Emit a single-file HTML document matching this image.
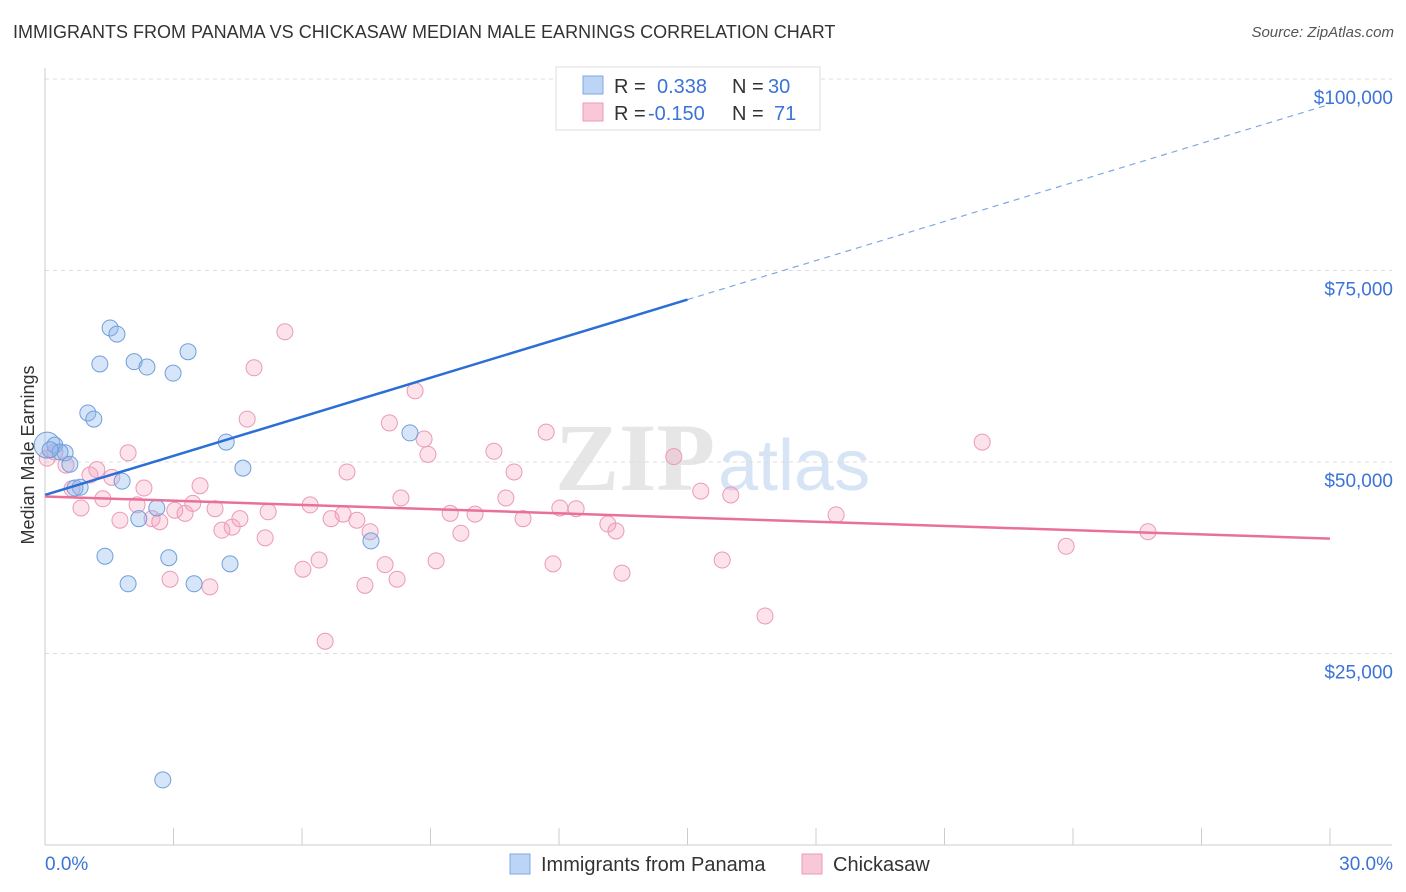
<!DOCTYPE html>
<html><head><meta charset="utf-8">
<style>
body{margin:0;background:#fff;font-family:"Liberation Sans",sans-serif;}
#wrap{position:relative;width:1406px;height:892px;overflow:hidden;}
.t{position:absolute;white-space:nowrap;}
</style></head>
<body><div id="wrap">
<div class="t" style="left:13px;top:22px;font-size:18px;color:#333;">IMMIGRANTS FROM PANAMA VS CHICKASAW MEDIAN MALE EARNINGS CORRELATION CHART</div>
<div class="t" style="right:12px;top:24px;font-size:15px;color:#555;font-style:italic;">Source: ZipAtlas.com</div>
<svg id="svg" width="1406" height="892" style="position:absolute;left:0;top:0"></svg>
</div>
<script>
const yTicks=[25000,50000,75000,100000];
const yTickLabels=["$25,000","$50,000","$75,000","$100,000"];
const xTickLabels=["0.0%","30.0%"];
const blueX=[0.05,0.23,0.47,0.58,0.82,1.0,1.14,1.28,1.52,1.68,1.80,1.40,1.94,2.08,2.38,2.19,2.61,2.89,2.99,3.34,3.48,4.23,4.32,4.62,2.75,7.61,8.52,0.35,0.12,0.70];
const blueY=[52200,52200,51200,49700,46700,56400,55600,62800,67500,66700,47500,37700,34100,63100,62400,42600,44000,37500,61600,64400,34100,52600,36700,49200,8500,39700,53800,51300,51600,46600];
const pinkX=[0.05,0.23,0.49,0.63,0.84,1.05,1.21,1.35,1.56,1.75,1.94,2.15,2.31,2.50,2.68,2.92,3.03,3.27,3.45,3.62,3.85,3.97,4.13,4.37,4.55,4.72,4.88,5.14,5.21,5.60,6.02,6.19,6.40,6.54,6.68,6.96,7.05,7.28,7.47,7.59,7.94,8.04,8.22,8.31,8.64,8.85,8.94,9.13,9.46,9.71,10.04,10.48,10.76,10.95,11.16,11.70,11.86,12.02,12.40,13.14,13.33,13.47,14.68,15.31,15.81,16.01,16.81,18.47,21.88,23.84,25.75];
const pinkY=[50500,51300,49600,46500,44000,48300,49000,45200,48000,42400,51200,44400,46600,42600,42200,34700,43700,43300,44600,46900,33700,43900,41100,41500,42600,55600,62300,40100,43500,67000,36000,44400,37200,26600,42600,43200,48700,42400,33900,40900,36600,55100,34700,45300,59300,53000,51000,37100,43300,40700,43200,51400,45300,48700,42600,53900,36700,44000,43900,41900,41000,35500,50700,46200,37200,45700,29900,43100,52600,39000,40900];
const blueTrend=[46000,0.338];
const blueLine=[[0,45700],[15,71200],[30,96700]];
const pinkLine=[[0,45500],[30,40000]];
const X0=45,X1=1330,Y0=845,PXY=191.5/25000;
const sx=v=>X0+(v/30)*(X1-X0), sy=v=>Y0-v*PXY;
const svg=document.getElementById('svg');const NS='http://www.w3.org/2000/svg';
function mk(tag,attrs,name){const e=document.createElementNS(NS,tag);for(const k in attrs)e.setAttribute(k,attrs[k]);


svg.appendChild(e);return e;}
// watermark
let w=mk('text',{x:555,y:490,'font-size':96,fill:'#e6e6e6','font-family':'Liberation Serif','font-weight':'bold'},'watermark-zip');w.textContent='ZIP';
w=mk('text',{x:718,y:490,'font-size':72,fill:'#d6e4f5','font-family':'Liberation Sans'},'watermark-atlas');w.textContent='atlas';
// grid
yTicks.forEach((t,i)=>{mk('line',{x1:X0,x2:1392,y1:sy(t),y2:sy(t),stroke:'#ddd','stroke-dasharray':'4,4'},'grid-line');
const tx=mk('text',{x:1393,y:sy(t)+25,'text-anchor':'end','font-size':19,fill:'#3b73d6'},'y-tick-label');tx.textContent=yTickLabels[i];});
mk('line',{x1:X0,x2:1392,y1:79,y2:79,stroke:'#ddd','stroke-dasharray':'4,4'},'grid-line-top');
mk('line',{x1:X0,x2:X0,y1:68,y2:Y0,stroke:'#ccc'},'y-axis');
mk('line',{x1:X0,x2:1392,y1:Y0,y2:Y0,stroke:'#ccc'},'x-axis');
for(let i=0;i<=10;i++){mk('line',{x1:sx(i*3),x2:sx(i*3),y1:828,y2:Y0,stroke:'#ccc'},'x-tick');}
let t=mk('text',{x:45,y:870,'font-size':19,fill:'#3b73d6'},'x-tick-label');t.textContent=xTickLabels[0];
t=mk('text',{x:1393,y:870,'text-anchor':'end','font-size':19,fill:'#3b73d6'},'x-tick-label');t.textContent=xTickLabels[1];
t=mk('text',{x:34,y:455,'font-size':18,fill:'#333','text-anchor':'middle',transform:'rotate(-90 34 455)'},'y-axis-title');t.textContent='Median Male Earnings';
// points
pinkX.forEach((x,i)=>mk('circle',{cx:sx(x),cy:sy(pinkY[i]),r:8,fill:'rgba(244,160,190,0.3)',stroke:'#eb9ab6','stroke-width':1},'chickasaw-point'));
blueX.forEach((x,i)=>mk('circle',{cx:sx(x),cy:sy(blueY[i]),r:i==0?13:8,fill:'rgba(140,180,235,0.35)',stroke:'#6f9fdc','stroke-width':1},'panama-point'));
// trends
mk('line',{x1:sx(blueLine[0][0]),y1:sy(blueLine[0][1]),x2:sx(blueLine[1][0]),y2:sy(blueLine[1][1]),stroke:'#2b6fd6','stroke-width':2.5},'panama-trend-line');
mk('line',{x1:sx(blueLine[1][0]),y1:sy(blueLine[1][1]),x2:sx(blueLine[2][0]),y2:sy(blueLine[2][1]),stroke:'#7fa8e0','stroke-width':1.2,'stroke-dasharray':'6,5'},'panama-trend-extension');
mk('line',{x1:sx(pinkLine[0][0]),y1:sy(pinkLine[0][1]),x2:sx(pinkLine[1][0]),y2:sy(pinkLine[1][1]),stroke:'#e9709a','stroke-width':2.5},'chickasaw-trend-line');
// legend box
mk('rect',{x:556,y:67,width:264,height:63,fill:'#fff',stroke:'#ddd'},'legend-box');
mk('rect',{x:583,y:76,width:20,height:18,fill:'#bcd4f5',stroke:'#7fa8e0'},'legend-swatch-panama');
mk('rect',{x:583,y:103,width:20,height:18,fill:'#f8c8d8',stroke:'#eb9ab6'},'legend-swatch-chickasaw');
function lt(x,y,s,c,n){const e=mk('text',{x:x,y:y,'font-size':20,fill:c},n);e.textContent=s;}
lt(614,93,'R =','#333','legend-r-label');lt(657,93,'0.338','#3b73d6','legend-r-panama');
lt(732,93,'N =','#333','legend-n-label');lt(768,93,'30','#3b73d6','legend-n-panama');
lt(614,120,'R =','#333','legend-r-label');lt(648,120,'-0.150','#3b73d6','legend-r-chickasaw');
lt(732,120,'N =','#333','legend-n-label');lt(774,120,'71','#3b73d6','legend-n-chickasaw');
// bottom legend
mk('rect',{x:510,y:854,width:20,height:20,fill:'#bcd4f5',stroke:'#7fa8e0'},'bottom-legend-swatch-panama');
lt(541,871,'Immigrants from Panama','#333','bottom-legend-panama');
mk('rect',{x:802,y:854,width:20,height:20,fill:'#f8c8d8',stroke:'#eb9ab6'},'bottom-legend-swatch-chickasaw');
lt(833,871,'Chickasaw','#333','bottom-legend-chickasaw');
</script></body></html>
